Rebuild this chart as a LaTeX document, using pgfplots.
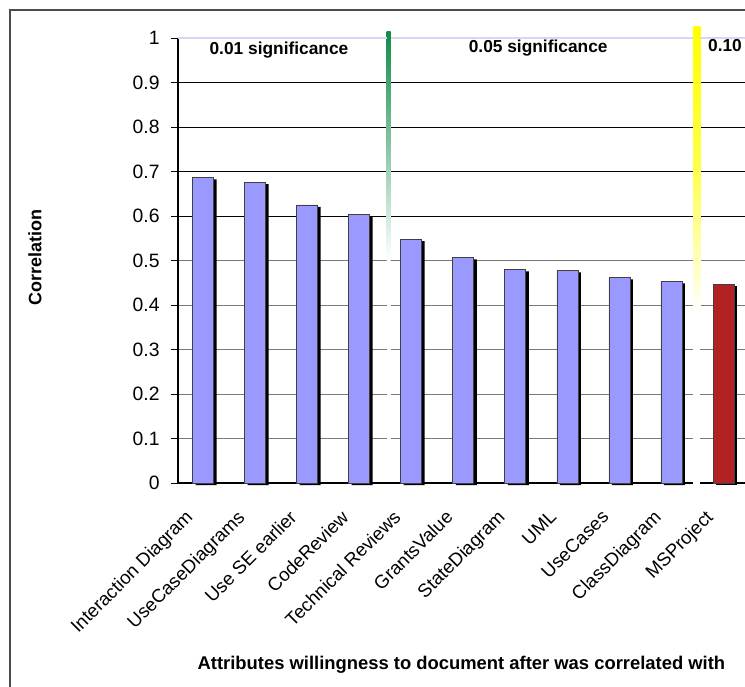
\documentclass[border=0pt]{standalone}
\usepackage{fontspec}
\setmainfont{Liberation Sans}
\usepackage{pgfplots}
\usepackage{pgfplotstable}
\pgfplotsset{compat=1.18}
\definecolor{barblue}{RGB}{153,153,255}
\definecolor{barred}{RGB}{178,34,34}
\definecolor{sepgreen}{RGB}{16,140,72}
\definecolor{sepyellow}{RGB}{255,255,0}
\definecolor{gridlav}{RGB}{215,215,245}
\definecolor{gridgray}{RGB}{120,120,120}

\pgfplotstableread{
x y
0 0.687
1 0.676
2 0.625
3 0.604
4 0.548
5 0.507
6 0.480
7 0.478
8 0.462
9 0.453
}\bluedata
\pgfplotstableread{
x y
10 0.447
}\reddata

\begin{document}
\begin{tikzpicture}
\useasboundingbox (0,0) rectangle (558.75pt,-514.5pt);
\clip (0,0) rectangle (558.75pt,-514.5pt);
\fill[white] (0,0) rectangle (558.75pt,-514.5pt);
\draw[line width=1.1pt, draw=black!70] (7.5pt,-600pt) -- (7.5pt,-7.5pt) -- (600pt,-7.5pt);
\begin{axis}[
  at={(133.5pt,-362.25pt)}, anchor=south west,
  width=429.4pt, height=333.75pt, scale only axis,
  xmin=-0.5, xmax=10.5, ymin=0, ymax=1,
  clip mode=individual,
  axis x line*=bottom, axis y line*=left,
  axis line style={black, line width=0.8pt},
  tick align=outside,
  major tick length=5.25pt,
  ytick={0,0.1,0.2,0.3,0.4,0.5,0.6,0.7,0.8,0.9,1},
  yticklabels={0,0.1,0.2,0.3,0.4,0.5,0.6,0.7,0.8,0.9,1},
  ymajorgrids,
  major grid style={gridgray, line width=0.7pt},
  extra y ticks={0.6,0.7,0.8,0.9},
  extra y tick labels={},
  extra y tick style={grid=major, major grid style={black, line width=0.7pt}},
  ytick style={black, line width=0.7pt},
  yticklabel style={font=\fontsize{14.5}{16}\selectfont, xshift=-5pt},
  /pgf/number format/assume math mode=true,
  xtick={0,1,2,3,4,5,6,7,8,9,10},
  xticklabels={Interaction Diagram, UseCaseDiagrams, Use SE earlier, CodeReview, Technical Reviews, GrantsValue, StateDiagram, UML, UseCases, ClassDiagram, MSProject},
  xtick style={draw=none},
  extra x ticks={-0.5,0.5,1.5,2.5,3.5,4.5,5.5,6.5,7.5,8.5,9.5},
  extra x tick labels={},
  extra x tick style={xtick style={black, line width=0.7pt}, xmajorgrids=false},
  xticklabel style={font=\fontsize{14}{16}\selectfont, rotate=45, anchor=north east, inner sep=1pt, xshift=-19.5pt, yshift=1.7pt},
  ylabel={\bfseries Correlation},
  ylabel style={at={(rel axis cs:-0.2498,0.506)}, anchor=center, font=\fontsize{13.5}{15}\selectfont},
  xlabel={\bfseries Attributes willingness to document after was correlated with},
  xlabel style={at={(rel axis cs:0.495,-0.409)}, anchor=center, font=\fontsize{13.8}{15}\selectfont},
]
% separator lines (decoration)
\fill[white] (axis cs:3.51,0.003) rectangle (axis cs:3.586,0.5);
\shade[top color=sepgreen, bottom color=white] (axis cs:3.51,0.5) rectangle (axis cs:3.586,1.0135);
\fill[white] (axis cs:9.404,-0.003) rectangle (axis cs:9.538,0.38);
\shade[top color=sepyellow, bottom color=white, middle color=sepyellow!70] (axis cs:9.404,0.38) rectangle (axis cs:9.538,1.0254);
\draw[gridlav, line width=0.9pt] (axis cs:-0.5,1) -- (axis cs:3.51,1);
\draw[gridlav, line width=0.9pt] (axis cs:3.586,1) -- (axis cs:9.404,1);
\draw[gridlav, line width=0.9pt] (axis cs:9.538,1) -- (axis cs:10.5,1);
% shadows
\addplot[ybar, bar width=15.75pt, bar shift=1.5pt, fill=black, draw=none, yshift=-1.5pt] table[x=x,y=y] {\bluedata};
\addplot[ybar, bar width=15.75pt, bar shift=1.5pt, fill=black, draw=none, yshift=-1.5pt] table[x=x,y=y] {\reddata};
% bars
\addplot[ybar, bar width=15.75pt, bar shift=-0.75pt, fill=barblue, draw=black!75, line width=0.5pt] table[x=x,y=y] {\bluedata};
\addplot[ybar, bar width=15.75pt, bar shift=-0.75pt, fill=barred, draw=black!75, line width=0.5pt] table[x=x,y=y] {\reddata};
% annotations
\node[font=\fontsize{13}{15}\selectfont\bfseries, anchor=center] at (axis cs:1.44,0.973) {0.01 significance};
\node[font=\fontsize{13}{15}\selectfont\bfseries, anchor=center] at (axis cs:6.42,0.978) {0.05 significance};
\node[font=\fontsize{13}{15}\selectfont\bfseries, anchor=west, inner sep=0pt] at (axis cs:9.68,0.98) {0.10 significance};
\end{axis}
\end{tikzpicture}
\end{document}
